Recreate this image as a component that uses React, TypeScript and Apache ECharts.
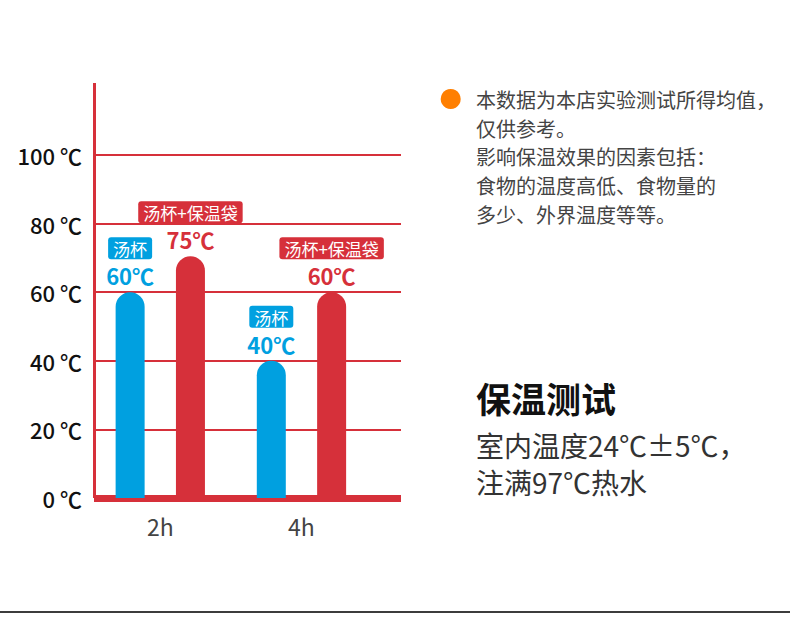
import React, { useEffect, useRef } from "react";
import * as echarts from "echarts";

const hours = [2, 4];
const cupValues = [60, 40];
const bagValues = [70.5, 60];
const cupLabels = ["60℃", "40℃"];
const bagLabels = ["75℃", "60℃"];
const yTicks = [0, 20, 40, 60, 80, 100];
const cupName = "汤杯";
const bagName = "汤杯+保温袋";
const noteLines = [
  "本数据为本店实验测试所得均值，",
  "仅供参考。",
  "影响保温效果的因素包括：",
  "食物的温度高低、食物量的",
  "多少、外界温度等等。",
];
const title = "保温测试";
const condLines = ["室内温度24℃±5℃，", "注满97℃热水"];

const RED = "#D6303A";
const BLUE = "#00A0E0";
const FONT = "'Noto Sans CJK SC', 'Noto Sans', sans-serif";
const X_MIN = 1.061;
const X_MAX = 5.41;

function valueSeries(name: string, color: string, values: number[], texts: string[]) {
  return {
    type: "bar",
    name,
    xAxisIndex: 0,
    data: hours.map((h, i) => [h, values[i]]),
    barWidth: 29,
    barGap: "108%",
    itemStyle: { color, borderRadius: [15, 15, 0, 0] },
    label: {
      show: true,
      position: "top",
      distance: 3,
      formatter: (p: any) => texts[p.dataIndex],
      color,
      fontSize: 22,
      fontWeight: "bold",
      fontFamily: FONT,
      lineHeight: 28,
    },
    z: 1,
  };
}

function tagSeries(name: string, color: string, values: number[]) {
  return {
    type: "bar",
    name: name + " ",
    xAxisIndex: 1,
    data: hours.map((h, i) => [h, values[i]]),
    barWidth: 29,
    barGap: "108%",
    itemStyle: { color: "transparent" },
    silent: true,
    label: {
      show: true,
      position: "top",
      distance: 33,
      formatter: () => name,
      backgroundColor: color,
      color: "#fff",
      fontSize: 17,
      fontFamily: FONT,
      padding: [2, 5, 1, 5],
      borderRadius: 3,
      lineHeight: 19,
    },
    z: 2,
  };
}

export default function App() {
  const ref = useRef<HTMLDivElement>(null);
  useEffect(() => {
    if (!ref.current) return;
    const chart = echarts.init(ref.current, null, { renderer: "svg" });
    chart.setOption({
      animation: false,
      backgroundColor: "#fff",
      textStyle: { fontFamily: FONT },
      grid: { left: 94, top: 83, width: 307, height: 415, containLabel: false },
      xAxis: [
        {
          type: "value",
          min: X_MIN,
          max: X_MAX,
          axisLine: { show: true, lineStyle: { color: RED, width: 7, cap: "butt" } },
          axisTick: { show: false },
          splitLine: { show: false },
          axisLabel: {
            customValues: hours,
            formatter: (v: number) => `${v}h`,
            fontSize: 23,
            color: "#444",
            margin: 16,
            fontFamily: FONT,
          },
        },
        {
          type: "value",
          position: "bottom",
          min: X_MIN,
          max: X_MAX,
          show: false,
        },
      ],
      yAxis: {
        type: "value",
        min: 0,
        max: 121,
        axisLine: { show: true, lineStyle: { color: RED, width: 3, cap: "butt" } },
        axisTick: { show: false, customValues: yTicks },
        splitLine: { show: true, lineStyle: { color: RED, width: 2 } },
        axisLabel: {
          customValues: yTicks,
          formatter: (v: number) => `${v} ℃`,
          fontSize: 22,
          fontWeight: 500,
          color: "#111",
          margin: 12,
          fontFamily: FONT,
        },
      },
      series: [
        valueSeries(cupName, BLUE, cupValues, cupLabels),
        valueSeries(bagName, RED, bagValues, bagLabels),
        tagSeries(cupName, BLUE, cupValues),
        tagSeries(bagName, RED, bagValues),
      ],
      graphic: [
        {
          type: "circle",
          shape: { cx: 450.7, cy: 99, r: 10 },
          style: { fill: "#FF7F00" },
        },
        {
          type: "text",
          x: 476,
          y: 85,
          style: {
            text: noteLines.join("\n"),
            fontSize: 20,
            lineHeight: 28.7,
            fill: "#444",
            fontFamily: FONT,
            verticalAlign: "top",
          },
        },
        {
          type: "text",
          x: 476,
          y: 397,
          style: {
            text: title,
            fontSize: 35,
            fontWeight: "bold",
            fill: "#111",
            fontFamily: FONT,
            verticalAlign: "middle",
          },
        },
        ...condLines.map((t, i) => ({
          type: "text",
          x: 476,
          y: 444.5 + i * 37,
          style: {
            text: t,
            fontSize: 28,
            fill: "#333",
            fontFamily: FONT,
            verticalAlign: "middle",
          },
        })),
        {
          type: "line",
          shape: { x1: 0, y1: 612, x2: 790, y2: 612 },
          style: { stroke: "#3c3c3c", lineWidth: 2 },
        },
      ],
    });
    return () => chart.dispose();
  }, []);
  return (
    <div
      ref={ref}
      style={{ position: "fixed", left: 0, top: 0, width: 790, height: 643 }}
    />
  );
}
